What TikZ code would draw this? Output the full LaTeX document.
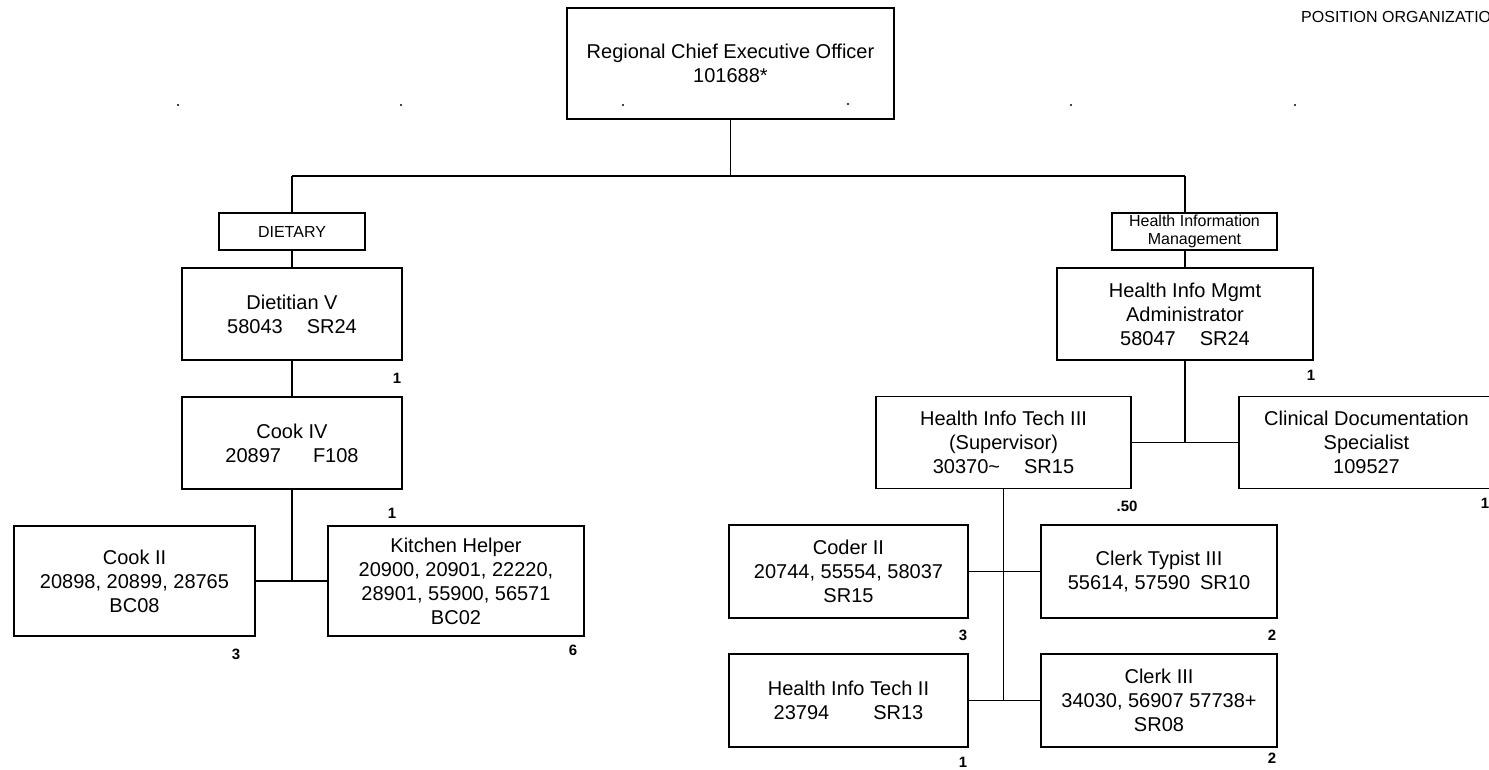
\documentclass[tikz,border=0pt]{standalone}
\usepackage{fontspec}
\setmainfont{Liberation Sans}
\begin{document}
\begin{tikzpicture}[x=1pt,y=-1pt,
  box/.style={draw, line width=1.4pt, align=center, inner sep=0pt,
    font=\fontsize{20}{24}\selectfont},
  dept/.style={draw, line width=1.4pt, align=center, inner sep=0pt,
    font=\fontsize{16}{18}\selectfont},
  cnt/.style={inner sep=0pt, font=\fontsize{15}{17}\selectfont\bfseries},
  link/.style={line width=1.4pt}]
\useasboundingbox (0,0) rectangle (1489,769);

% title
\node[anchor=west, inner sep=0pt, font=\fontsize{16}{18}\selectfont] (title) at (1301,17) {POSITION ORGANIZATIO};

% top
\node[box, minimum width=327pt, minimum height=111pt] (ceo) at (730.5,63.5) {Regional Chief Executive Officer\\101688*};

% dietary branch
\node[dept, minimum width=146pt, minimum height=37pt] (dietary) at (292,231.5) {DIETARY};
\node[box, minimum width=220pt, minimum height=92pt] (diet) at (292,314) {Dietitian V\\58043\hspace{1.2em}SR24};
\node[box, minimum width=220pt, minimum height=92pt] (cook4) at (292,443) {Cook IV\\20897\hspace{1.6em}F108};
\node[box, minimum width=241pt, minimum height=110pt] (cook2) at (134.5,581) {Cook II\\20898, 20899, 28765\\BC08};
\node[box, minimum width=256pt, minimum height=110pt] (kh) at (456,581) {Kitchen Helper\\20900, 20901, 22220,\\28901, 55900, 56571\\BC02};

% HIM branch
\node[dept, minimum width=165pt, minimum height=37pt] (him) at (1194.5,231.5) {Health Information\\Management};
\node[box, minimum width=256pt, minimum height=92pt] (hima) at (1185,314) {Health Info Mgmt\\Administrator\\58047\hspace{1.2em}SR24};
\node[box, minimum width=255pt, minimum height=92pt] (hit3) at (1003.5,442.5) {Health Info Tech III\\(Supervisor)\\30370\textasciitilde\hspace{1.2em}SR15};
\node[box, minimum width=255pt, minimum height=92pt] (cds) at (1366.5,442.5) {Clinical Documentation\\Specialist\\109527};
\node[box, minimum width=239pt, minimum height=93pt] (coder) at (848.5,571.5) {Coder II\\20744, 55554, 58037\\SR15};
\node[box, minimum width=236pt, minimum height=93pt] (ct3) at (1159,571.5) {Clerk Typist III\\55614, 57590\hspace{0.5em}SR10};
\node[box, minimum width=239pt, minimum height=93pt] (hit2) at (848.5,700.5) {Health Info Tech II\\23794\hspace{2.2em}SR13};
\node[box, minimum width=236pt, minimum height=93pt] (c3) at (1159,700.5) {Clerk III\\34030, 56907 57738+\\SR08};

% counts
\node[cnt] (n1) at (397,378) {1};
\node[cnt] (n2) at (392,513) {1};
\node[cnt] (n3) at (236,654) {3};
\node[cnt] (n4) at (573,650) {6};
\node[cnt] (n5) at (1311,375) {1};
\node[cnt] (n6) at (1485,503) {1};
\node[cnt] (n7) at (1127,506) {.50};
\node[cnt] (n8) at (963,635) {3};
\node[cnt] (n9) at (1272,635) {2};
\node[cnt] (n10) at (963,762) {1};
\node[cnt] (n11) at (1272,758) {2};

% connectors
\coordinate (busL) at (292,176);
\coordinate (busR) at (1185,176);
\coordinate (ceoJ) at (730.5,176);
\coordinate (himTop) at (1185,213);
\coordinate (himBot) at (1185,250);
\coordinate (j1) at (292,581);
\coordinate (j2) at (1185,442.5);
\coordinate (j3) at (1003.5,700.5);

\draw[link] (busL) -- (busR);
\draw[link] (ceo.south) -- (ceoJ);
\draw[link] (busL) -- (dietary.north);
\draw[link] (busR) -- (himTop);
\draw[link] (himBot) -- (hima.north);
\draw[link] (dietary.south) -- (diet.north);
\draw[link] (diet.south) -- (cook4.north);
\draw[link] (cook4.south) -- (j1);
\draw[link] (cook2.east) -- (kh.west);
\draw[link] (hima.south) -- (j2);
\draw[link] (hit3.east) -- (cds.west);
\draw[link] (hit3.south) -- (j3);
\draw[link] (coder.east) -- (ct3.west);
\draw[link] (hit2.east) -- (c3.west);

% stray scan marks
\foreach \p in {(178,105),(401,105),(623,105),(848,104),(1071,105),(1295,105)}
  \fill \p circle (1.2pt);
\end{tikzpicture}
\end{document}
